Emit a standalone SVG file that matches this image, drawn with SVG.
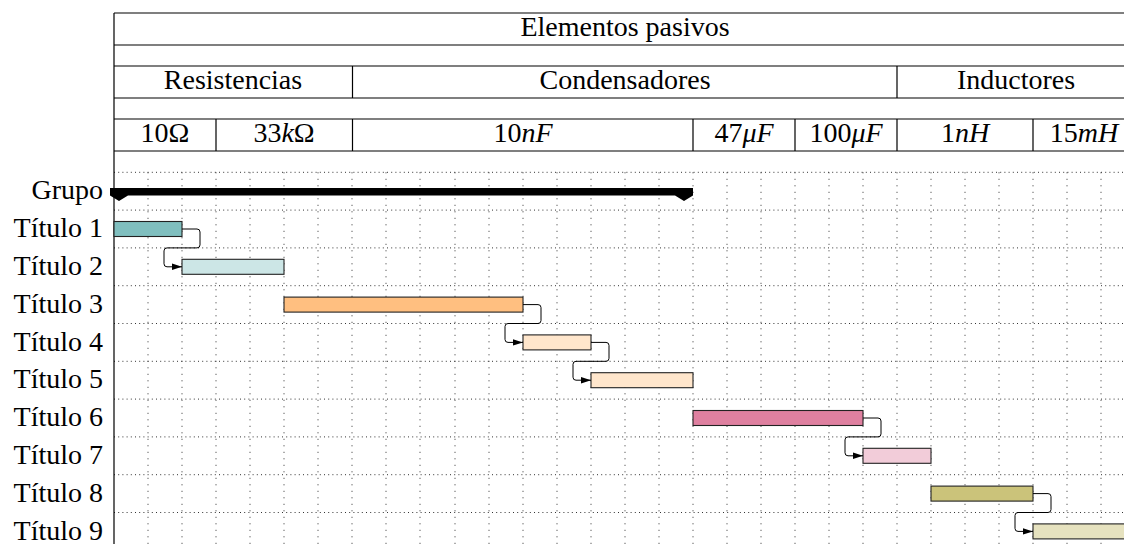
<svg xmlns="http://www.w3.org/2000/svg" width="1124" height="544" viewBox="0 0 1124 544">
<style>
text{font-family:"Liberation Serif","Times New Roman",serif;font-size:28px;fill:#000}
.c{text-anchor:middle}
.l{text-anchor:end}
.i{font-style:italic}
.solid{stroke:#000;stroke-width:1.2;fill:none}
.hg{stroke:#333;stroke-width:1;stroke-dasharray:1 3.2;fill:none}
.vg{stroke:#333;stroke-width:1;stroke-dasharray:1 5.5;fill:none}
.bar{stroke:#222;stroke-width:1.1}
.conn{stroke:#000;stroke-width:1;fill:none;marker-end:url(#arr)}
</style>
<defs>
<marker id="arr" markerUnits="userSpaceOnUse" markerWidth="10" markerHeight="8" refX="10" refY="4" orient="auto">
<path d="M0,0.8 L10,4 L0,7.2 Z" fill="#000"/>
</marker>
</defs>
<rect width="1124" height="544" fill="#fff"/>
<g id="grid">
<path class="hg" d="M114 172.3H1124M114 210.1H1124M114 247.9H1124M114 285.7H1124M114 323.5H1124M114 361.3H1124M114 399.1H1124M114 436.9H1124M114 474.7H1124M114 512.5H1124"/>
<path class="vg" d="M148 172.3V544M182 172.3V544M216 172.3V544M250 172.3V544M284 172.3V544M318 172.3V544M352 172.3V544M386 172.3V544M420 172.3V544M455 172.3V544M489 172.3V544M523 172.3V544M557 172.3V544M591 172.3V544M625 172.3V544M659 172.3V544M693 172.3V544M727 172.3V544M761 172.3V544M795 172.3V544M829 172.3V544M863 172.3V544M897 172.3V544M931 172.3V544M965 172.3V544M999 172.3V544M1033 172.3V544M1067 172.3V544M1101 172.3V544"/>
</g>
<g id="header">
<path class="solid" d="M114 13H1124M114 45H1124M114 66H1124M114 98H1124M114 119H1124M114 151H1124M114 13V544M352.5 66V98M897 66V98M216 119V151M352.5 119V151M693 119V151M795 119V151M897 119V151M1033 119V151"/>
<text class="c" x="625" y="36">Elementos pasivos</text>
<text class="c" x="233" y="89">Resistencias</text>
<text class="c" x="625" y="89">Condensadores</text>
<text class="c" x="1016" y="89">Inductores</text>
<text class="c" x="165" y="142">10Ω</text>
<text class="c" x="284" y="142">33<tspan class="i">k</tspan>Ω</text>
<text class="c" x="523" y="142">10<tspan class="i">nF</tspan></text>
<text class="c" x="744" y="142">47<tspan class="i">μF</tspan></text>
<text class="c" x="846" y="142">100<tspan class="i">μF</tspan></text>
<text class="c" x="965" y="142">1<tspan class="i">nH</tspan></text>
<text class="c" x="1084" y="142">15<tspan class="i">mH</tspan></text>
</g>
<g id="grupo">
<text class="l" x="103" y="199">Grupo</text>
<path d="M110 188H693V195.5L684 201L675 195.5H128L119 201L110 195.5Z" fill="#000"/>
</g>
<g id="t1"><text class="l" x="103" y="237">Título 1</text><rect class="bar" x="114" y="221.5" width="68" height="15" fill="#80BFBF"/></g>
<g id="t2"><text class="l" x="103" y="275">Título 2</text><rect class="bar" x="182" y="259.3" width="102" height="15" fill="#CCE6E6"/></g>
<g id="t3"><text class="l" x="103" y="313">Título 3</text><rect class="bar" x="284" y="297.1" width="239" height="15" fill="#FFBF80"/></g>
<g id="t4"><text class="l" x="103" y="350.5">Título 4</text><rect class="bar" x="523" y="334.9" width="68" height="15" fill="#FFE6CC"/></g>
<g id="t5"><text class="l" x="103" y="388.3">Título 5</text><rect class="bar" x="591" y="372.7" width="102" height="15" fill="#FFE6CC"/></g>
<g id="t6"><text class="l" x="103" y="426">Título 6</text><rect class="bar" x="693" y="410.5" width="170" height="15" fill="#DF80A0"/></g>
<g id="t7"><text class="l" x="103" y="464">Título 7</text><rect class="bar" x="863" y="448.3" width="68" height="15" fill="#F2CCD9"/></g>
<g id="t8"><text class="l" x="103" y="501.7">Título 8</text><rect class="bar" x="931" y="486.1" width="102" height="15" fill="#CBC37A"/></g>
<g id="t9"><text class="l" x="103" y="539.5">Título 9</text><rect class="bar" x="1033" y="523.9" width="102" height="15" fill="#E6E2BF"/></g>
<g id="connectors">
<path class="conn" d="M182 229H197Q200 229 200 232V244.9Q200 247.9 197 247.9H167Q164 247.9 164 250.9V263.8Q164 266.8 167 266.8H182"/>
<path class="conn" d="M523 304.6H538Q541 304.6 541 307.6V320.5Q541 323.5 538 323.5H508Q505 323.5 505 326.5V339.4Q505 342.4 508 342.4H523"/>
<path class="conn" d="M591 342.4H606Q609 342.4 609 345.4V358.3Q609 361.3 606 361.3H576Q573 361.3 573 364.3V377.2Q573 380.2 576 380.2H591"/>
<path class="conn" d="M863 418H878Q881 418 881 421V433.9Q881 436.9 878 436.9H848Q845 436.9 845 439.9V452.8Q845 455.8 848 455.8H863"/>
<path class="conn" d="M1033 493.6H1048Q1051 493.6 1051 496.6V509.5Q1051 512.5 1048 512.5H1018Q1015 512.5 1015 515.5V528.4Q1015 531.4 1018 531.4H1033"/>
</g>
</svg>
